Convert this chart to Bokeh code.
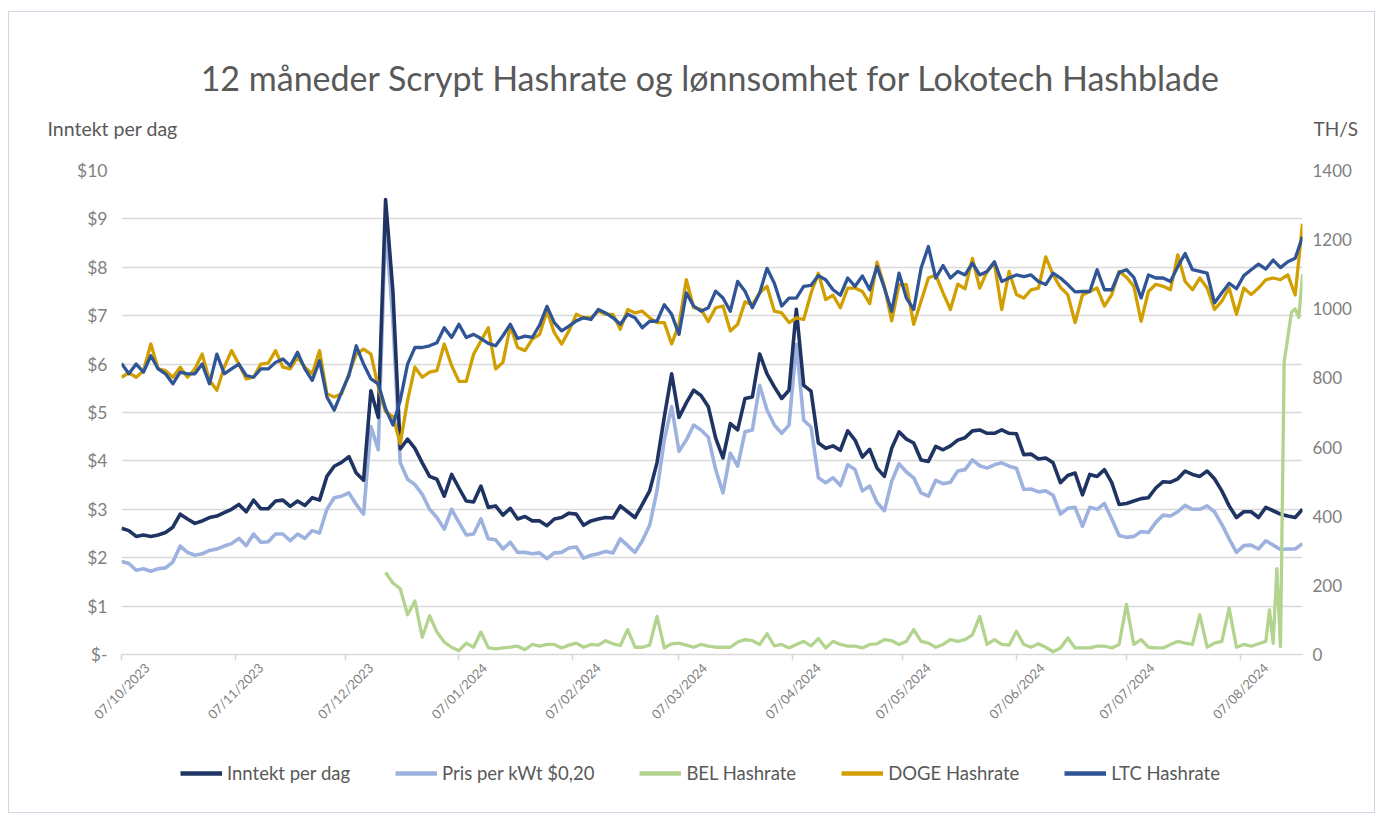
import pandas as pd
from math import pi
from bokeh.plotting import figure
from bokeh.layouts import column
from bokeh.models import (Range1d, LinearAxis, DatetimeAxis, FixedTicker, CustomJSTickFormatter,
                          Label, ColumnDataSource, Legend, LegendItem)
from bokeh.embed import file_html
from bokeh.resources import INLINE

START = pd.Timestamp("2023-10-07")
days = list(range(0, 323, 2))

inntekt = [
    2.61, 2.56, 2.44, 2.47, 2.44, 2.47, 2.52, 2.63, 2.90, 2.80,
    2.71, 2.76, 2.83, 2.86, 2.93, 3.00, 3.10, 2.95, 3.19, 3.01,
    3.01, 3.17, 3.19, 3.06, 3.17, 3.08, 3.24, 3.19, 3.68, 3.89,
    3.97, 4.09, 3.75, 3.60, 5.45, 4.90, 9.40, 7.50, 4.25, 4.45,
    4.26, 3.96, 3.68, 3.62, 3.27, 3.72, 3.44, 3.17, 3.15, 3.48,
    3.04, 3.07, 2.88, 3.02, 2.80, 2.85, 2.76, 2.76, 2.66, 2.80,
    2.83, 2.92, 2.90, 2.67, 2.76, 2.80, 2.83, 2.82, 3.07, 2.95,
    2.83, 3.10, 3.38, 3.96, 4.91, 5.80, 4.90, 5.20, 5.46, 5.35,
    5.12, 4.47, 4.06, 4.77, 4.64, 5.29, 5.32, 6.21, 5.80, 5.53,
    5.29, 5.46, 7.13, 5.56, 5.44, 4.37, 4.26, 4.31, 4.22, 4.62,
    4.43, 4.08, 4.24, 3.85, 3.68, 4.26, 4.60, 4.45, 4.37, 4.02,
    3.99, 4.30, 4.23, 4.31, 4.43, 4.48, 4.62, 4.64, 4.57, 4.57,
    4.64, 4.57, 4.56, 4.13, 4.14, 4.04, 4.06, 3.96, 3.55, 3.70,
    3.75, 3.30, 3.72, 3.68, 3.82, 3.55, 3.10, 3.12, 3.17, 3.22,
    3.24, 3.44, 3.57, 3.56, 3.63, 3.79, 3.72, 3.68, 3.79, 3.63,
    3.38, 3.07, 2.83, 2.95, 2.95, 2.83, 3.04, 2.97, 2.90, 2.86,
    2.83, 3.00,
]

pris = [
    1.92, 1.88, 1.74, 1.77, 1.72, 1.77, 1.79, 1.91, 2.24, 2.11,
    2.05, 2.08, 2.15, 2.18, 2.24, 2.29, 2.40, 2.25, 2.49, 2.32,
    2.33, 2.49, 2.49, 2.35, 2.49, 2.40, 2.56, 2.51, 3.00, 3.24,
    3.27, 3.34, 3.10, 2.90, 4.71, 4.23, 8.90, 6.89, 3.96, 3.62,
    3.51, 3.31, 3.00, 2.83, 2.59, 3.00, 2.73, 2.47, 2.49, 2.80,
    2.39, 2.37, 2.18, 2.32, 2.11, 2.11, 2.08, 2.10, 1.98, 2.10,
    2.11, 2.20, 2.22, 1.99, 2.05, 2.08, 2.13, 2.10, 2.39, 2.25,
    2.11, 2.35, 2.67, 3.38, 4.43, 5.12, 4.20, 4.43, 4.74, 4.64,
    4.49, 3.82, 3.34, 4.16, 3.89, 4.60, 4.64, 5.56, 5.05, 4.74,
    4.57, 4.74, 6.41, 4.84, 4.70, 3.65, 3.55, 3.65, 3.49, 3.92,
    3.82, 3.38, 3.48, 3.14, 2.97, 3.58, 3.94, 3.77, 3.65, 3.34,
    3.27, 3.60, 3.53, 3.56, 3.79, 3.82, 4.02, 3.90, 3.85, 3.92,
    3.96, 3.89, 3.85, 3.41, 3.42, 3.36, 3.38, 3.29, 2.90, 3.02,
    3.04, 2.65, 3.04, 3.00, 3.12, 2.80, 2.46, 2.42, 2.44, 2.54,
    2.52, 2.73, 2.88, 2.86, 2.95, 3.08, 3.00, 3.00, 3.07, 2.95,
    2.69, 2.39, 2.11, 2.25, 2.26, 2.18, 2.35, 2.26, 2.17, 2.18,
    2.18, 2.29,
]

doge = [
    802, 815, 802, 821, 898, 826, 821, 802, 831, 802,
    826, 869, 793, 764, 831, 879, 840, 797, 802, 840,
    843, 879, 831, 826, 860, 831, 812, 879, 754, 745,
    754, 812, 869, 883, 869, 774, 702, 688, 610, 735,
    831, 802, 817, 821, 898, 836, 790, 790, 869, 907,
    945, 826, 845, 950, 888, 879, 912, 926, 993, 931,
    898, 936, 984, 974, 974, 993, 984, 984, 941, 998,
    988, 993, 974, 960, 960, 898, 955, 1084, 1003, 998,
    963, 1003, 1008, 936, 955, 1020, 1012, 1046, 1065, 993,
    988, 960, 974, 969, 1045, 1103, 1027, 1039, 1003, 1060,
    1060, 1050, 1015, 1135, 1065, 965, 1070, 1070, 955, 1022,
    1089, 1098, 1046, 998, 1071, 1058, 1146, 1060, 1108, 1132,
    998, 1108, 1041, 1031, 1055, 1060, 1150, 1098, 1062, 1041,
    960, 1040, 1050, 1060, 1008, 1041, 1108, 1091, 1065, 964,
    1050, 1071, 1065, 1055, 1156, 1079, 1055, 1089, 1060, 998,
    1022, 1060, 984, 1060, 1041, 1060, 1084, 1089, 1084, 1098,
    1040, 1246,
]

ltc = [
    842, 812, 840, 817, 864, 826, 812, 783, 817, 812,
    812, 840, 783, 869, 812, 826, 840, 807, 802, 826,
    826, 845, 855, 835, 874, 826, 793, 850, 745, 707,
    759, 807, 893, 840, 797, 783, 711, 664, 735, 840,
    888, 888, 893, 902, 945, 917, 955, 917, 926, 914,
    900, 893, 922, 955, 914, 921, 917, 953, 1007, 960,
    936, 950, 965, 974, 969, 998, 988, 974, 955, 984,
    974, 945, 964, 964, 1012, 984, 926, 1046, 1008, 993,
    1003, 1051, 1031, 993, 1079, 1051, 1003, 1046, 1117, 1074,
    1008, 1031, 1031, 1065, 1068, 1096, 1084, 1055, 1039, 1089,
    1065, 1095, 1055, 1122, 1060, 993, 1103, 1031, 998, 1117,
    1180, 1089, 1125, 1089, 1108, 1098, 1132, 1098, 1108, 1136,
    1079, 1089, 1098, 1093, 1098, 1079, 1070, 1103, 1089, 1070,
    1049, 1050, 1050, 1113, 1055, 1055, 1105, 1113, 1091, 1031,
    1098, 1089, 1089, 1079, 1122, 1160, 1113, 1108, 1103, 1017,
    1046, 1074, 1058, 1096, 1113, 1129, 1115, 1141, 1119, 1136,
    1146, 1208,
]

bel_days = list(range(72, 313, 2)) + [313, 314, 315, 316, 317, 319, 320, 321, 322]
bel = [
    237, 207, 190, 115, 155, 50, 112, 65, 36, 21,
    11, 33, 21, 65, 20, 16, 19, 21, 24, 14,
    29, 24, 29, 29, 19, 27, 33, 21, 29, 27,
    40, 31, 26, 72, 21, 21, 27, 110, 19, 31,
    33, 27, 21, 29, 24, 21, 21, 21, 36, 43,
    40, 29, 60, 25, 29, 19, 29, 38, 25, 46,
    19, 38, 29, 24, 24, 19, 29, 31, 43, 40,
    29, 38, 72, 38, 33, 21, 29, 43, 38, 43,
    57, 110, 29, 43, 29, 27, 67, 29, 21, 31,
    21, 8, 19, 48, 19, 19, 19, 24, 24, 19,
    29, 145, 29, 43, 21, 19, 19, 29, 38, 33,
    29, 115, 21, 33, 38, 134, 21, 29, 24, 31,
    38,
    129, 32, 248, 23, 846, 990, 1000, 975, 1100,
]

tick_labels = ["07/10/2023", "07/11/2023", "07/12/2023", "07/01/2024", "07/02/2024",
               "07/03/2024", "07/04/2024", "07/05/2024", "07/06/2024", "07/07/2024",
               "07/08/2024"]
left_ticks = list(range(0, 11))
right_ticks = list(range(0, 1401, 200))
series_names = ["Inntekt per dag", "Pris per kWt $0,20", "BEL Hashrate",
                "DOGE Hashrate", "LTC Hashrate"]

TITLE = "12 måneder Scrypt Hashrate og lønnsomhet for Lokotech Hashblade"
FONT = "Lato"
GRID = "#d9d9d9"
TICKC = "#7f7f7f"
TXT = "#595959"
COLORS = ["#1f3462", "#9db2df", "#b3d48e", "#d29f00", "#2f5597"]
W = 1365

dates = [START + pd.Timedelta(days=d) for d in days]
bel_dates = [START + pd.Timedelta(days=d) for d in bel_days]
tick_dates = [pd.to_datetime(t, format="%d/%m/%Y") for t in tick_labels]
tick_ms = [int(t.value // 10**6) for t in tick_dates]
# rotated labels are centred on their tick in the reference: anchor them a week later
shift = 7 * 86400000
label_ms = [m + shift for m in tick_ms]

src = ColumnDataSource(dict(x=dates, inntekt=inntekt, pris=pris, doge=doge, ltc=ltc))
bsrc = ColumnDataSource(dict(x=bel_dates, bel=bel))

# ---------------- header (title + axis titles)
HH = 140
header = figure(width=W, height=HH, x_range=Range1d(0, W), y_range=Range1d(0, HH),
                output_backend="svg", toolbar_location=None, min_border=0,
                x_axis_location=None, y_axis_location=None)
header.frame_align = False
header.grid.visible = False
header.outline_line_color = None
header.add_layout(Label(x=701, y=HH - 65, text=TITLE, text_align="center",
                        text_baseline="middle", text_font=FONT, text_font_size="34px",
                        text_color=TXT))
header.add_layout(Label(x=38, y=HH - 116, text="Inntekt per dag", text_align="left",
                        text_baseline="middle", text_font=FONT, text_font_size="19.5px",
                        text_color=TXT))
header.add_layout(Label(x=1304, y=HH - 116, text="TH/S", text_align="left",
                        text_baseline="middle", text_font=FONT, text_font_size="19px",
                        text_color=TXT))

# ---------------- main chart
p = figure(width=W, height=578, x_axis_type="datetime", output_backend="svg",
           toolbar_location=None,
           x_range=Range1d(START, START + pd.Timedelta(days=322)),
           y_range=Range1d(0, 10),
           min_border_left=112, min_border_right=72, min_border_top=18,
           min_border_bottom=72)
p.frame_align = False
p.outline_line_color = None
p.extra_y_ranges = {"right": Range1d(0, 1400)}

p.xgrid.visible = False
p.ygrid.ticker = FixedTicker(ticks=left_ticks)
p.ygrid.grid_line_color = GRID
p.ygrid.grid_line_width = 1.6

ya = p.yaxis[0]
ya.ticker = FixedTicker(ticks=left_ticks)
ya.formatter = CustomJSTickFormatter(code="return tick == 0 ? '$-' : '$' + tick;")
ya.axis_line_color = None
ya.major_tick_line_color = None
ya.minor_tick_line_color = None
ya.major_label_text_font = FONT
ya.major_label_text_font_size = "17.5px"
ya.major_label_text_color = TICKC
ya.major_label_standoff = 8

ra = LinearAxis(y_range_name="right", ticker=FixedTicker(ticks=right_ticks))
ra.axis_line_color = None
ra.major_tick_line_color = None
ra.minor_tick_line_color = None
ra.major_label_text_font = FONT
ra.major_label_text_font_size = "17px"
ra.major_label_text_color = TICKC
ra.major_label_standoff = 4
p.add_layout(ra, "right")

xa = p.xaxis[0]
xa.ticker = FixedTicker(ticks=tick_ms)
xa.formatter = CustomJSTickFormatter(code="return '';")
xa.major_label_text_font_size = "0px"
xa.major_label_standoff = 0
xa.axis_line_color = GRID
xa.axis_line_width = 1.6
xa.major_tick_line_color = GRID
xa.major_tick_line_width = 1.6
xa.major_tick_in = 0
xa.major_tick_out = 6
xa.minor_tick_line_color = None

xl = DatetimeAxis(ticker=FixedTicker(ticks=label_ms),
                  major_label_overrides={m: t for m, t in zip(label_ms, tick_labels)})
xl.formatter = CustomJSTickFormatter(code="return '';")
xl.axis_line_color = None
xl.major_tick_line_color = None
xl.minor_tick_line_color = None
xl.major_tick_in = 0
xl.major_tick_out = 0
xl.major_label_orientation = pi / 4
xl.major_label_standoff = 5
xl.major_label_text_font = FONT
xl.major_label_text_font_size = "13px"
xl.major_label_text_color = TICKC
p.add_layout(xl, "below")

LW = 3.6
r_pris = p.line("x", "pris", source=src, line_color=COLORS[1], line_width=LW, line_join="round")
r_inn = p.line("x", "inntekt", source=src, line_color=COLORS[0], line_width=LW, line_join="round")
r_bel = p.line("x", "bel", source=bsrc, y_range_name="right", line_color=COLORS[2],
               line_width=3.3, line_join="round")
r_doge = p.line("x", "doge", source=src, y_range_name="right", line_color=COLORS[3],
                line_width=3.3, line_join="round")
r_ltc = p.line("x", "ltc", source=src, y_range_name="right", line_color=COLORS[4],
               line_width=3.3, line_join="round")

# ---------------- footer (legend)
FH = 82
footer = figure(width=W, height=FH, x_range=Range1d(0, W), y_range=Range1d(0, FH),
                output_backend="svg", toolbar_location=None, min_border=0,
                x_axis_location=None, y_axis_location=None)
footer.frame_align = False
footer.grid.visible = False
footer.outline_line_color = None
nan = float("nan")
items = []
for name, col in zip(series_names, COLORS):
    key_src = ColumnDataSource(dict(x=[nan], y=[nan]))
    r = footer.line("x", "y", source=key_src, line_color=col, line_width=4.5)
    items.append(LegendItem(label=name, renderers=[r]))
legend = Legend(items=items, orientation="horizontal", location=(171, FH - 44 - 10))
legend.label_text_font = FONT
legend.label_text_font_size = "18.5px"
legend.label_text_color = TXT
legend.glyph_width = 42
legend.glyph_height = 20
legend.label_height = 20
legend.label_standoff = 5
legend.spacing = 45
legend.padding = 0
legend.margin = 0
legend.border_line_color = None
legend.background_fill_alpha = 0
footer.add_layout(legend)

page = column(header, p, footer, spacing=0,
              styles={"border": "1px solid #cfd5e3", "margin-left": "8px", "margin-top": "11px"})

open("out.html", "w").write(file_html(page, INLINE))
